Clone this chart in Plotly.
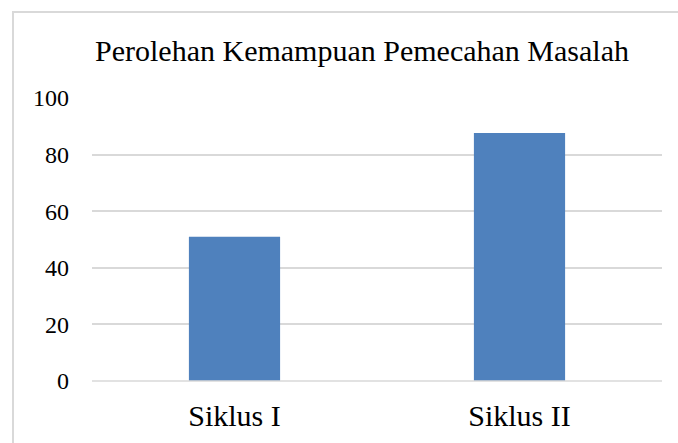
import plotly.graph_objects as go

categories = ["Siklus I", "Siklus II"]
values = [51, 87.6]
y_ticks = [0, 20, 40, 60, 80, 100]
title_text = "Perolehan Kemampuan Pemecahan Masalah"

W, H = 678, 443
L, R, T, B = 92, 16, 98, 62
pw, ph = W - L - R, H - T - B

def px_x(px):
    return (px - L) / pw

def px_y(py):
    return (H - B - py) / ph

fig = go.Figure(go.Bar(
    x=categories, y=values, marker=dict(color="#4F81BD", line=dict(width=0)),
    width=0.32, hoverinfo="skip",
))

fig.update_layout(
    width=W, height=H,
    margin=dict(l=L, r=R, t=T, b=B),
    paper_bgcolor="white", plot_bgcolor="white",
    showlegend=False,
    title=dict(text=title_text, x=362 / W, xanchor="center", y=1 - 50 / H, yanchor="middle",
               font=dict(family="Liberation Serif", size=30, color="black")),
    xaxis=dict(showgrid=False, showline=False, ticks="", zeroline=False,
               tickfont=dict(family="Liberation Serif", size=30, color="black")),
    yaxis=dict(range=[0, 100], tickvals=y_ticks, showgrid=True, gridcolor="#D9D9D9", gridwidth=1.5,
               zeroline=False, showline=False, ticks="", ticklabelstandoff=22,
               tickfont=dict(family="Liberation Serif", size=24, color="black")),
    shapes=[
        dict(type="line", xref="paper", yref="paper", x0=0, x1=1, y0=0, y1=0,
             line=dict(color="#D9D9D9", width=1.5)),
        dict(type="rect", xref="paper", yref="paper", x0=px_x(13), x1=px_x(700),
             y0=px_y(460), y1=px_y(12), line=dict(color="#D9D9D9", width=2), layer="below"),
    ],
)
fig.update_xaxes(ticklabelstandoff=14)
fig.write_html("out.html", config={"displayModeBar": False},
               post_script="document.body.style.margin='0';document.body.style.overflow='hidden';")
